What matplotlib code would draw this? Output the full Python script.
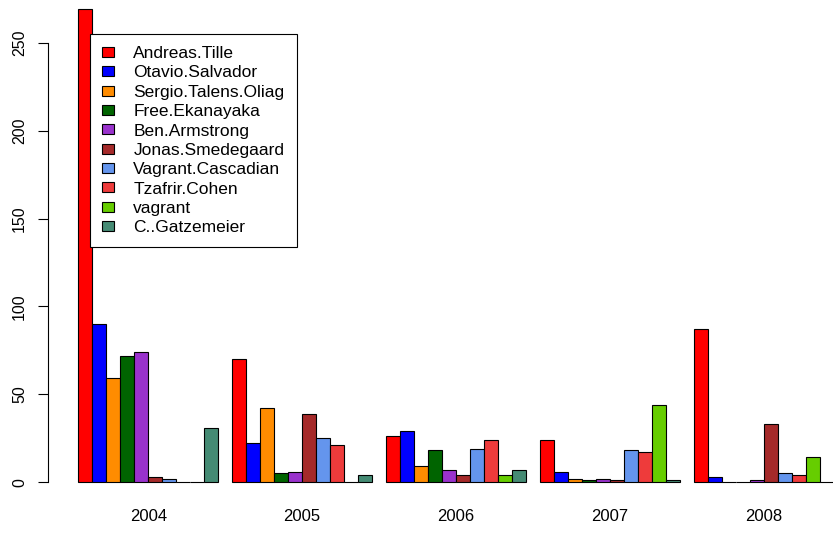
import numpy as np
import matplotlib
matplotlib.use("Agg")
import matplotlib.pyplot as plt
from matplotlib.patches import Patch

plt.rcParams['font.family'] = ['Liberation Sans', 'DejaVu Sans']

# данные: коммиты по годам
years = ['2004', '2005', '2006', '2007', '2008']
authors = ['Andreas.Tille', 'Otavio.Salvador', 'Sergio.Talens.Oliag',
           'Free.Ekanayaka', 'Ben.Armstrong', 'Jonas.Smedegaard',
           'Vagrant.Cascadian', 'Tzafrir.Cohen', 'vagrant', 'C..Gatzemeier']
colors = ['#FF0000', '#0000FF', '#FF8C00', '#006400', '#9932CC',
          '#A52A2A', '#6495ED', '#EE3B3B', '#66CD00', '#458B74']

andreas = [269, 70, 26, 24, 87]
otavio = [90, 22, 29, 6, 3]
sergio = [59, 42, 9, 2, 0]
free = [72, 5, 18, 1, 0]
ben = [74, 6, 7, 2, 1]
jonas = [3, 39, 4, 1, 33]
vagrant_c = [2, 25, 19, 18, 5]
tzafrir = [0, 21, 24, 17, 4]
vagrant = [0, 0, 4, 44, 14]
gatz = [31, 4, 7, 1, 0]
counts = [andreas, otavio, sergio, free, ben, jonas, vagrant_c, tzafrir, vagrant, gatz]

W, H = 833, 549
fig = plt.figure(figsize=(W / 100, H / 100), dpi=100)
# область графика как в R (выходит за правый и верхний край картинки)
ax = fig.add_axes([48 / W, 1 - 501 / H, 786 / W, 510.5 / H])

n = len(authors)
for g in range(len(years)):
    start = 1 + g * (n + 1)
    for i in range(n):
        ax.bar(start + i, counts[i][g], width=1.0, align='edge',
               color=colors[i], edgecolor='black', linewidth=0.8)

ax.set_xlim(1 - 2.16, 55)
ax.set_ylim(-10.76, 279.76)

for s in ['top', 'right', 'bottom']:
    ax.spines[s].set_visible(False)
ax.spines['left'].set_bounds(0, 250)
ax.spines['left'].set_linewidth(0.8)

ax.set_yticks(np.arange(0, 251, 50))
ax.set_yticklabels([str(v) for v in range(0, 251, 50)], rotation=90, va='center',
                   fontsize=11.5)
ax.tick_params(axis='y', length=7, width=0.8, pad=8)

centers = [1 + g * (n + 1) + n / 2 for g in range(len(years))]
ax.set_xticks(centers)
ax.set_xticklabels(years, fontsize=12)
ax.tick_params(axis='x', length=0, pad=6)

handles = [Patch(facecolor=c, edgecolor='black', linewidth=0.8) for c in colors]
leg = ax.legend(handles, authors, loc='upper left',
                bbox_to_anchor=(90 / W, 1 - 34 / H), bbox_transform=fig.transFigure,
                fontsize=12.5, frameon=True, fancybox=False, framealpha=1,
                edgecolor='black', borderaxespad=0, handlelength=0.7,
                handleheight=0.52, handletextpad=1.1, labelspacing=0.25,
                borderpad=0.7)
leg.get_frame().set_linewidth(0.8)

fig.savefig('out.png', dpi=100)
